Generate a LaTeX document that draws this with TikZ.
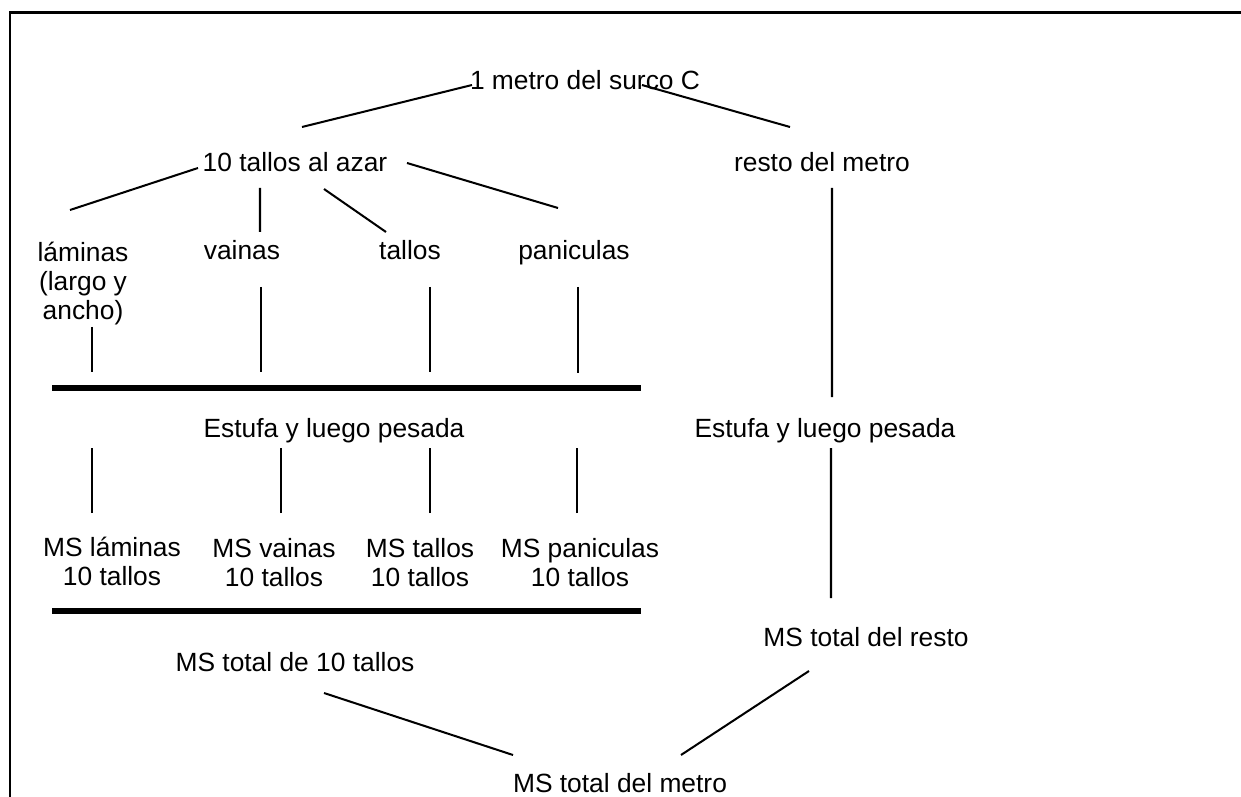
\documentclass[tikz,border=0pt]{standalone}
\usepackage{fontspec}
\setmainfont{Liberation Sans}
\usetikzlibrary{calc,positioning}

\begin{document}
\begin{tikzpicture}[
  txt/.style={draw=none,fill=none,align=center,font=\fontsize{15}{16.5}\selectfont},
  con/.style={line width=1.15pt},
  bar/.style={line width=3.4pt}]
  \useasboundingbox (0,0) rectangle (24.82,-15.94);

  % Frame
  \draw[line width=1.3pt] (0.2,-15.94) -- (0.2,-0.25) -- (24.82,-0.25);

  % Sample of one metre
  \node[txt] (metro) at (11.70,-1.60) {1 metro del surco C};
  \node[txt] (azar) at (5.90,-3.24) {10 tallos al azar};
  \node[txt] (resto) at (16.44,-3.24) {resto del metro};
  \draw[con] ($(azar)+(0.14,0.70)$) -- ($(metro)+(-2.26,-0.10)$);
  \draw[con] ($(metro)+(1.14,-0.10)$) -- ($(resto)+(-0.64,0.70)$);

  % Parts of the 10 stems
  \node[txt] (laminas) at (1.66,-5.68) {láminas\\(largo y\\ancho)};
  \node[txt] (vainas) at (4.84,-5.00) {vainas};
  \node[txt] (tallos) at (8.20,-5.00) {tallos};
  \node[txt] (panic) at (11.48,-5.06) {paniculas};
  \draw[con] ($(azar)+(-1.94,-0.12)$) -- ($(laminas)+(-0.26,1.48)$);
  \draw[con] ($(azar)+(-0.70,-0.52)$) -- ($(vainas)+(0.36,0.36)$);
  \draw[con] ($(azar)+(0.58,-0.54)$) -- ($(tallos)+(-0.48,0.36)$);
  \draw[con] ($(azar)+(2.24,-0.02)$) -- ($(panic)+(-0.32,0.90)$);

  % Upper bar
  \coordinate (barAw) at (1.04,-7.76);
  \coordinate (barAe) at (12.82,-7.76);
  \draw[bar] (barAw) -- (barAe);
  \draw[con] ($(laminas)+(0.18,-0.86)$) -- ($(laminas)+(0.18,-1.76)$);
  \draw[con] ($(vainas)+(0.38,-0.74)$) -- ($(vainas)+(0.38,-2.44)$);
  \draw[con] ($(tallos)+(0.40,-0.74)$) -- ($(tallos)+(0.40,-2.44)$);
  \draw[con] ($(panic)+(0.08,-0.68)$) -- ($(panic)+(0.08,-2.40)$);

  % Oven and weighing
  \node[txt] (estufaA) at (6.68,-8.62) {Estufa y luego pesada};
  \node[txt] (estufaB) at (16.50,-8.62) {Estufa y luego pesada};
  \draw[con] ($(resto)+(0.20,-0.52)$) -- ($(estufaB)+(0.14,0.68)$);

  % Dry matter of the parts
  \node[txt] (MSlam) at (2.24,-11.22) {MS láminas\\10 tallos};
  \node[txt] (MSvai) at (5.48,-11.26) {MS vainas\\10 tallos};
  \node[txt] (MStal) at (8.40,-11.26) {MS tallos\\10 tallos};
  \node[txt] (MSpan) at (11.60,-11.26) {MS paniculas\\10 tallos};
  \draw[con] ($(MSlam)+(-0.40,0.96)$) -- ($(MSlam)+(-0.40,2.26)$);
  \draw[con] ($(MSvai)+(0.14,1.00)$) -- ($(MSvai)+(0.14,2.30)$);
  \draw[con] ($(MStal)+(0.20,1.00)$) -- ($(MStal)+(0.20,2.30)$);
  \draw[con] ($(MSpan)+(-0.06,1.00)$) -- ($(MSpan)+(-0.06,2.30)$);

  % Lower bar
  \coordinate (barBw) at (1.04,-12.22);
  \coordinate (barBe) at (12.82,-12.22);
  \draw[bar] (barBw) -- (barBe);

  % Totals
  \node[txt] (totalA) at (5.90,-13.24) {MS total de 10 tallos};
  \node[txt] (totalB) at (17.32,-12.74) {MS total del resto};
  \node[txt] (total) at (12.40,-15.66) {MS total del metro};
  \draw[con] ($(estufaB)+(0.12,-0.34)$) -- ($(totalB)+(-0.70,0.78)$);
  \draw[con] ($(totalA)+(0.58,-0.62)$) -- ($(total)+(-2.14,0.56)$);
  \draw[con] ($(totalB)+(-1.14,-0.68)$) -- ($(total)+(1.22,0.56)$);

\end{tikzpicture}
\end{document}
